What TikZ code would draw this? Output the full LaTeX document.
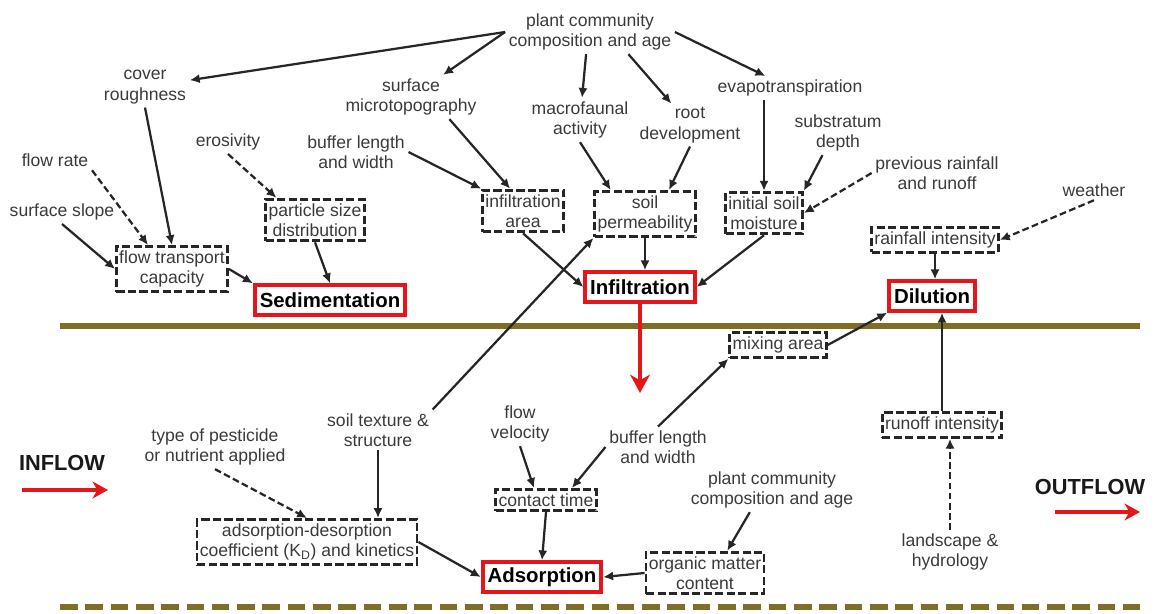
\documentclass[tikz,border=0pt]{standalone}
\usepackage{fontspec}
\setmainfont{Liberation Sans}
\usetikzlibrary{arrows.meta,positioning}
\definecolor{txtgray}{RGB}{58,58,58}
\definecolor{procred}{RGB}{228,22,28}
\definecolor{olivebar}{RGB}{128,110,38}
\tikzset{fac/.style={align=center,text=txtgray,inner sep=2.5pt,font=\fontsize{12.5}{14.5}\selectfont},facbox/.style={fac,draw=black!85,line width=2pt,dash pattern=on 5.8pt off 2.4pt,inner xsep=2pt,inner ysep=3pt},proc/.style={draw=procred,line width=2.8pt,fill=white,inner xsep=3.5pt,minimum height=21pt,font=\bfseries\fontsize{14.5}{16}\selectfont},bigtxt/.style={font=\bfseries\fontsize{15.5}{17}\selectfont,text=black!90},flux/.style={-{Latex[length=7pt,width=6.5pt]},line width=1.6pt,draw=black!85},fluxd/.style={flux,dash pattern=on 4.8pt off 2.4pt},redflux/.style={-{Stealth[length=13pt,width=14pt,inset=4pt]},line width=2.8pt,draw=procred},level/.style={line width=3.6pt,draw=olivebar}}

\begin{document}
\begin{tikzpicture}[x=0.025cm,y=-0.025cm]
\useasboundingbox (0,0) rectangle (1157,613);
\draw[level] (60,326) -- (1140,326);
\draw[level,dash pattern=on 12.5pt off 5.5pt] (60,607) -- (1140,607);
\node[fac] (plantA) at (590,32) {plant community\\composition and age};
\node[fac] (cover) at (145,87) {cover\\roughness};
\node[fac] (microtopo) at (411,97) {surface\\microtopography};
\node[fac] (macrofauna) at (580,120) {macrofaunal\\activity};
\node[fac] (roots) at (690,125) {root\\development};
\node[fac] (evapo) at (790,88) {evapotranspiration};
\node[fac] (substratum) at (838,133) {substratum\\depth};
\node[fac] (prevrain) at (937,173) {previous rainfall\\and runoff};
\node[fac] (weather) at (1094,190) {weather};
\node[fac] (erosivity) at (228,142) {erosivity};
\node[fac] (flowrate) at (55,160) {flow rate};
\node[fac] (slope) at (62,212) {surface slope};
\node[fac] (bufferA) at (356,152) {buffer length\\and width};
\node[facbox] (transport) at (172,269) {flow transport\\capacity};
\node[facbox] (particle) at (315,220) {particle size\\distribution};
\node[facbox] (infarea) at (523,211) {infiltration\\area};
\node[facbox] (permeab) at (645,214) {soil\\permeability};
\node[facbox] (moisture) at (764,213) {initial soil\\moisture};
\node[facbox] (rainint) at (935,240) {rainfall intensity};
\node[proc] (sedim) at (330,300) {Sedimentation};
\node[proc] (infil) at (640,287) {Infiltration};
\node[proc] (dilut) at (932,296) {Dilution};
\node[facbox] (mixing) at (778,345) {mixing area};
\node[facbox] (runoff) at (942,425) {runoff intensity};
\node[fac] (landscape) at (950,552) {landscape \&\\hydrology};
\node[fac] (pesticide) at (215,447) {type of pesticide\\or nutrient applied};
\node[fac] (texture) at (378,430) {soil texture \&\\structure};
\node[fac] (velocity) at (520,424) {flow\\velocity};
\node[fac] (bufferB) at (658,447) {buffer length\\and width};
\node[facbox] (contact) at (546,500) {contact time};
\node[fac] (plantB) at (772,490) {plant community\\composition and age};
\node[facbox] (kd) at (307,542) {adsorption-desorption\\coefficient (K\textsubscript{D}) and kinetics};
\node[facbox] (organic) at (705,573) {organic matter\\content};
\node[proc] (adsorp) at (542,577) {Adsorption};
\node[bigtxt] (inflow) at (62,463) {INFLOW};
\node[bigtxt] (outflow) at (1090,487) {OUTFLOW};
\coordinate (inA) at (22,490);
\coordinate (inB) at (108,490);
\coordinate (outA) at (1055,512);
\coordinate (outB) at (1140,512);
\coordinate (infilend) at (640,393);
\draw[flux] (plantA.west) -- (cover);
\draw[flux] (plantA.west) -- (microtopo);
\draw[flux] (plantA.-100) -- (macrofauna);
\draw[flux] (plantA.-30) -- (roots);
\draw[flux] (plantA.east) -- (evapo);
\draw[flux] (evapo.south -| moisture) -- (moisture);
\draw[flux] (substratum.-125) -- (moisture.north east);
\draw[fluxd] (prevrain.west) -- (moisture.east);
\draw[flux] (microtopo.-30) -- (infarea.120);
\draw[flux] (bufferA.east) -- (infarea.north west);
\draw[flux] (macrofauna.south) -- (permeab.145);
\draw[flux] (roots.south) -- (permeab.45);
\draw[flux] (infarea.south) -- (infil.west);
\draw[flux] (permeab.south) -- (permeab.south |- infil.north);
\draw[flux] (moisture.south) -- (infil.east);
\draw[flux] (texture.north east) -- (permeab.south west);
\draw[flux] (texture.south) -- (texture.south |- kd.north);
\draw[fluxd] (pesticide.south) -- (kd.north);
\draw[flux] (cover.south) -- (transport.north);
\draw[fluxd] (flowrate.south east) -- (transport.135);
\draw[flux] (slope.south) -- (transport.west);
\draw[fluxd] (erosivity.south) -- (particle.150);
\draw[flux] (transport.east) -- (sedim.north west);
\draw[flux] (particle.south) -- (sedim.north);
\draw[fluxd] (weather.south) -- (rainint.east);
\draw[flux] (rainint.south) -- (rainint.south |- dilut.north);
\draw[flux] (mixing.east) -- (dilut.south west);
\draw[flux] (bufferB.north) -- (mixing.south west);
\draw[flux] (bufferB.west) -- (contact.25);
\draw[flux] (velocity.south) -- (contact.135);
\draw[flux] (contact.south) -- (adsorp.north);
\draw[flux] (kd.east) -- (adsorp.west);
\draw[flux] (organic.west) -- (adsorp.east);
\draw[flux] (plantB.-135) -- (organic.45);
\draw[flux] (runoff.north) -- (runoff.north |- dilut.south);
\draw[fluxd] (landscape.north) -- (landscape.north |- runoff.south);
\draw[redflux] (infil.south) -- (infilend);
\draw[redflux,line width=2.4pt,-{Stealth[length=11pt,width=12pt,inset=3.5pt]}] (inA) -- (inB);
\draw[redflux,line width=2.4pt,-{Stealth[length=11pt,width=12pt,inset=3.5pt]}] (outA) -- (outB);
\end{tikzpicture}
\end{document}
